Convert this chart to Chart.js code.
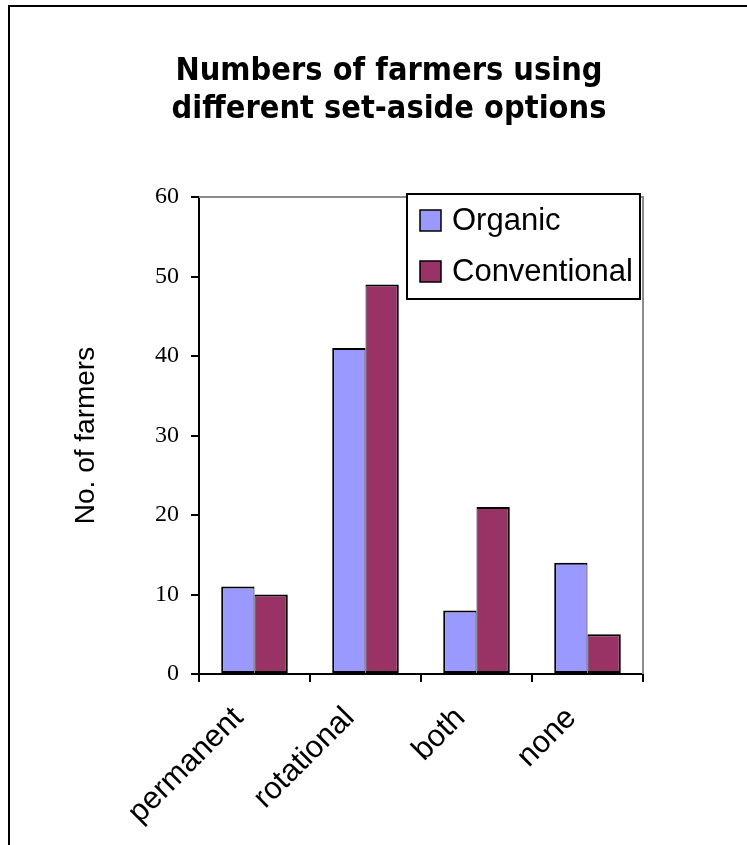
<!DOCTYPE html>
<html>
<head>
<meta charset="utf-8">
<script src="https://cdn.jsdelivr.net/npm/chart.js@4/dist/chart.umd.min.js"></script>
<style>
  html, body { margin: 0; padding: 0; background: #fff; overflow: hidden; }
  #frame { position: absolute; left: 8px; top: 5px; width: 900px; height: 1000px;
           border: 2px solid #000; box-sizing: border-box; }
  #wrap { position: absolute; left: 0; top: 0; width: 747px; height: 845px; }
</style>
</head>
<body>
<div id="frame"></div>
<div id="wrap"><canvas id="c" width="747" height="845"></canvas></div>
<script>
// Survey results: farmers per set-aside option
const categories = ['permanent', 'rotational', 'both', 'none'];
const organic = [11, 41, 8, 14];
const conventional = [10, 49, 21, 5];
const seriesNames = ['Organic', 'Conventional'];
const seriesColors = ['#9999FF', '#993366'];
const yTicks = [0, 10, 20, 30, 40, 50, 60];
const titleLines = ['Numbers of farmers using', 'different set-aside options'];
const yAxisTitle = 'No. of farmers';

// Two-line heading, gray plot frame and boxed legend
const decorations = {
  id: 'decorations',
  beforeDatasetsDraw(chart) {
    const { ctx, chartArea: a } = chart;
    ctx.save();
    ctx.strokeStyle = '#8c8c8c';
    ctx.lineWidth = 2;
    ctx.beginPath();
    ctx.moveTo(a.left, a.top);
    ctx.lineTo(a.right, a.top);
    ctx.lineTo(a.right, a.bottom);
    ctx.stroke();
    ctx.restore();
  },
  afterDraw(chart) {
    const { ctx, chartArea: a } = chart;
    ctx.save();
    ctx.fillStyle = '#000';
    ctx.font = 'bold 29px "DejaVu Sans"';
    ctx.textAlign = 'center';
    ctx.textBaseline = 'alphabetic';
    titleLines.forEach((t, i) => {
      ctx.save();
      ctx.translate(389, 80 + i * 38);
      ctx.scale(1, 1.12);
      ctx.fillText(t, 0, 0);
      ctx.restore();
    });

    // legend box overlapping the top-right of the plot
    const box = { left: a.left + 208, top: a.top - 3, right: a.right - 3, bottom: a.top + 102 };
    ctx.fillStyle = '#fff';
    ctx.fillRect(box.left, box.top, box.right - box.left, box.bottom - box.top);
    ctx.strokeStyle = '#000';
    ctx.lineWidth = 2;
    ctx.strokeRect(box.left, box.top, box.right - box.left, box.bottom - box.top);
    ctx.font = '31px "Liberation Sans"';
    ctx.textAlign = 'left';
    ctx.textBaseline = 'middle';
    chart.data.datasets.forEach((ds, i) => {
      const sx = box.left + 13, sy = box.top + 16 + i * 51;
      ctx.fillStyle = ds.backgroundColor;
      ctx.fillRect(sx, sy, 21, 21);
      ctx.lineWidth = 1.5;
      ctx.strokeStyle = '#000';
      ctx.strokeRect(sx, sy, 21, 21);
      ctx.fillStyle = '#000';
      ctx.fillText(ds.label, box.left + 45, sy + 11.5);
    });
    ctx.restore();
  }
};

new Chart(document.getElementById('c'), {
  type: 'bar',
  data: {
    labels: categories,
    datasets: [
      { label: seriesNames[0], data: organic, backgroundColor: seriesColors[0],
        borderColor: '#000', borderWidth: { left: 2, right: 1, top: 2, bottom: 2 }, borderSkipped: false },
      { label: seriesNames[1], data: conventional, backgroundColor: seriesColors[1],
        borderColor: '#000', borderWidth: { left: 1, right: 2, top: 2, bottom: 2 }, borderSkipped: false }
    ]
  },
  options: {
    responsive: false,
    animation: false,
    devicePixelRatio: 1,
    layout: { padding: { left: 10, right: 104, top: 197, bottom: 0 } },
    datasets: { bar: { categoryPercentage: 0.6, barPercentage: 1 } },
    plugins: { legend: { display: false }, title: { display: false }, tooltip: { enabled: false } },
    scales: {
      x: {
        grid: { offset: true, drawOnChartArea: false, drawTicks: true, tickLength: 8, color: '#000', lineWidth: 2 },
        border: { display: true, color: '#000', width: 2 },
        ticks: { color: '#000', font: { family: 'Liberation Sans', size: 31 }, minRotation: 45, maxRotation: 45,
                 padding: 18, labelOffset: -16 },
        afterFit(scale) { scale.height = 171; }
      },
      y: {
        min: yTicks[0],
        max: yTicks[yTicks.length - 1],
        grid: { drawOnChartArea: false, drawTicks: true, tickLength: 8, color: '#000', lineWidth: 2 },
        border: { display: true, color: '#000', width: 2 },
        ticks: { stepSize: yTicks[1] - yTicks[0], color: '#000', padding: 12,
                 font: { family: 'Liberation Serif', size: 24 } },
        title: { display: true, text: yAxisTitle, color: '#000',
                 font: { family: 'Liberation Sans', size: 28 }, padding: { top: 59 } },
        afterFit(scale) { scale.width = 189; }
      }
    }
  },
  plugins: [decorations]
});
</script>
</body>
</html>
